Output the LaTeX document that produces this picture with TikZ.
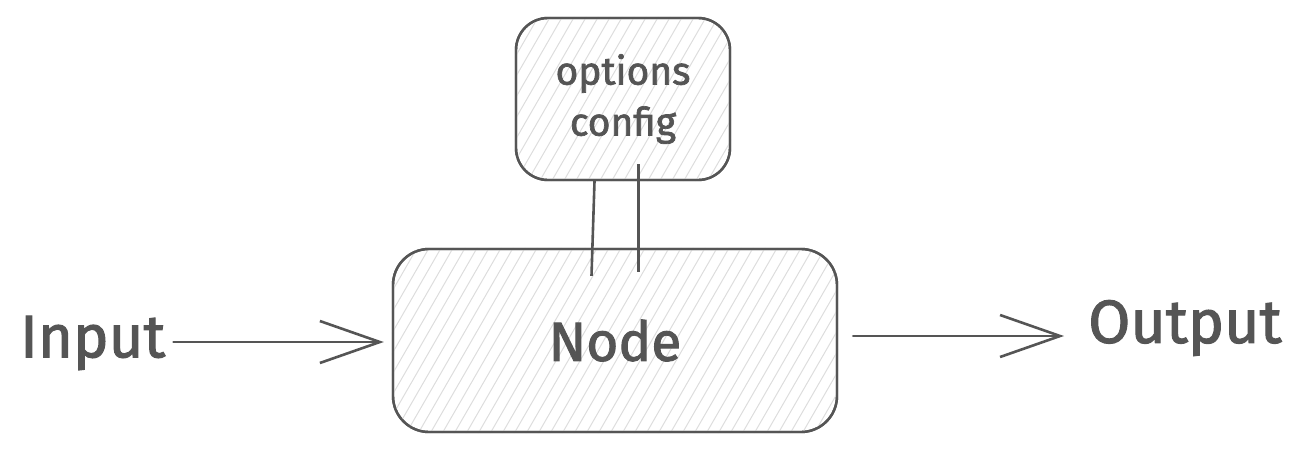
\documentclass[tikz,border=0pt]{standalone}
\usepackage{fontspec}
\setmainfont{Fira Sans}
\newfontfamily\sketchfont{Fira Sans}[FakeBold=1.8]
\usetikzlibrary{arrows.meta}
\definecolor{ink}{HTML}{555555}
\definecolor{hatchc}{HTML}{DDDDDD}
\tikzset{
  box/.style={draw=ink, line width=2.4pt, rounded corners=32pt, inner sep=0pt},
  hatch/.style={draw=hatchc, line width=1pt},
  link/.style={draw=ink, line width=1.6pt},
  flow/.style={draw=ink, line width=2.6pt, line cap=round,
    -{Straight Barb[length=60pt,width=42pt,line width=2.6pt]}},
  lbl/.style={text=ink, inner sep=0pt}
}
\begin{document}
\begin{tikzpicture}[x=1pt,y=-1pt]
\useasboundingbox (0,0) rectangle (1309,451);
% boxes
\node[box, minimum width=214pt, minimum height=162pt] (opt) at (623,99) {};
\node[box, minimum width=444pt, minimum height=183pt, rounded corners=36pt] (nd) at (615,340.5) {};
% hatching
\begin{scope}
  \clip[rounded corners=32pt] (opt.south west) rectangle (opt.north east);
  \foreach \i in {-300,-288,...,900} \draw[hatch] (\i,451) -- (\i+260,0);
\end{scope}
\begin{scope}
  \clip[rounded corners=36pt] (nd.south west) rectangle (nd.north east);
  \foreach \i in {-300,-288,...,1000} \draw[hatch] (\i,451) -- (\i+260,0);
\end{scope}
\node[box, fill=none, minimum width=214pt, minimum height=162pt] at (opt.center) {};
\node[box, fill=none, minimum width=444pt, minimum height=183pt, rounded corners=36pt] at (nd.center) {};
% texts
\node[lbl, align=center, font=\sketchfont\fontsize{39}{51}\selectfont] (optt) at (opt.center) {options\\config};
\node[lbl, font=\sketchfont\fontsize{55}{60}\selectfont] (ndt) at (nd.center) {Node};
\node[lbl, anchor=west, font=\sketchfont\fontsize{60}{64}\selectfont] (in) at (20,343) {Input};
\node[lbl, anchor=west, font=\sketchfont\fontsize{61}{64}\selectfont] (out) at (1088,328) {Output};
% links between boxes
\draw[link] ([xshift=-29pt]opt.south) -- ([xshift=-24pt,yshift=-28pt]nd.north);
\draw[link] ([xshift=-28pt]opt.south) -- ([xshift=-23pt,yshift=-28pt]nd.north);
\draw[link] ([xshift=15pt,yshift=17pt]opt.south) -- ([xshift=23pt,yshift=-24pt]nd.north);
\draw[link] ([xshift=16.5pt,yshift=17pt]opt.south) -- ([xshift=24.5pt,yshift=-24pt]nd.north);
% flows
\coordinate (ia) at (in.east |- 0,342);
\coordinate (ib) at (nd.west |- 0,342);
\draw[flow] ([xshift=8pt]ia) -- ([xshift=-8pt]ib);
\coordinate (oa) at (nd.east |- 0,336);
\coordinate (ob) at (out.west |- 0,336);
\draw[flow] ([xshift=15pt]oa) -- ([xshift=-24pt]ob);
\end{tikzpicture}
\end{document}
